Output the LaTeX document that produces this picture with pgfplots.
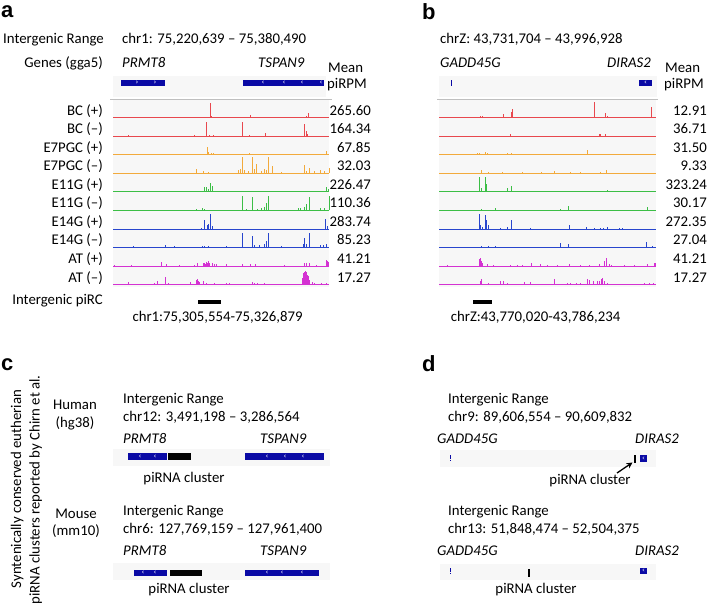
\documentclass[border=0pt]{standalone}
\usepackage{pgfplots}
\pgfplotsset{compat=1.18}
\usepackage{fontspec}
\setmainfont{Carlito}
\newfontfamily\letterfont{Liberation Sans}
\newfontfamily\chevfont{DejaVu Sans}
\usetikzlibrary{arrows.meta}
\definecolor{cBC}{RGB}{232,72,78}
\definecolor{cE7}{RGB}{242,170,60}
\definecolor{cE11}{RGB}{60,190,70}
\definecolor{cE14}{RGB}{40,70,205}
\definecolor{cAT}{RGB}{212,50,210}
\definecolor{gene}{RGB}{10,10,165}
\definecolor{bgg}{RGB}{247,247,247}
\pgfplotsset{trk/.style={hide axis, scale only axis, height=16bp, ymin=0, ymax=16, xmin=0, anchor=south west, clip=false}}
% #1 x0, #2 baseline y (px from top), #3 width, #4 colour, #5 spikes (x, height)
\newcommand{\trk}[5]{%
\begin{axis}[trk, at={(#1bp,609bp-#2bp)}, width=#3bp, xmax=#3]
\addplot[#4, line width=0.75pt] coordinates {(0,0) (#3,0)};
\addplot[#4, ycomb, line width=0.65pt] coordinates {#5};
\end{axis}}
\newcommand{\rect}[5]{\addplot[fill=#5, draw=none] coordinates {(#1,#3) (#2,#3) (#2,#4) (#1,#4)};}
\newcommand{\chev}[3]{\node[text=white, inner sep=0pt, font=\chevfont\fontsize{7bp}{7bp}\selectfont] at (axis cs:#1,#2) {#3};}
\newcommand{\lbl}[4]{%
  \node[anchor=base east] at (axis cs:103,{115.1+18.55*#1}) {#2};
  \node[anchor=base east] at (axis cs:371,{115.1+18.55*#1}) {#3};
  \node[anchor=base east] at (axis cs:707,{115.1+18.55*#1}) {#4};}
\begin{document}
\fontsize{14.8bp}{17bp}\selectfont
\begin{tikzpicture}[every node/.style={inner sep=0pt}]
\begin{axis}[at={(0,0)}, anchor=south west, scale only axis, width=709bp, height=609bp,
  xmin=0, xmax=709, ymin=0, ymax=609, y dir=reverse, hide axis, clip=false]
\path (axis cs:0,0) rectangle (axis cs:709,609);
% ---------- panel a ----------
\node[anchor=base west, font=\letterfont\bfseries\fontsize{22bp}{22bp}\selectfont] at (axis cs:1,18) {a};
\node[anchor=base west] at (axis cs:3,44) {Intergenic Range};
\node[anchor=base west] at (axis cs:122,44) {chr1: 75,220,639 – 75,380,490};
\node[anchor=base east] at (axis cs:103,68) {Genes (gga5)};
\node[anchor=base west] at (axis cs:122,68) {\textit{PRMT8}};
\node[anchor=base west] at (axis cs:258,68) {\textit{TSPAN9}};
\node[anchor=base west] at (axis cs:328,72.5) {Mean};
\node[anchor=base west] at (axis cs:327,89) {piRPM};
\rect{113}{326}{76}{97}{bgg}
\rect{121}{165}{80}{86}{gene}
\rect{243}{324}{80}{86}{gene}
\chev{137}{83}{›}\chev{155}{83}{›}
\chev{263}{83}{‹}\chev{284}{83}{‹}\chev{302}{83}{‹}\chev{321}{83}{‹}
\addplot[black!25, line width=0.6pt] coordinates {(110,99) (332,99)};
\rect{113}{329}{100}{287}{bgg}
% ---------- panel b ----------
\node[anchor=base west, font=\letterfont\bfseries\fontsize{22bp}{22bp}\selectfont] at (axis cs:422,20) {b};
\node[anchor=base west] at (axis cs:440,44) {chrZ: 43,731,704 – 43,996,928};
\node[anchor=base west] at (axis cs:440,68) {\textit{GADD45G}};
\node[anchor=base east] at (axis cs:651,68) {\textit{DIRAS2}};
\node[anchor=base west] at (axis cs:665,72.5) {Mean};
\node[anchor=base west] at (axis cs:664,89) {piRPM};
\rect{439}{657}{76}{97}{bgg}
\rect{450.5}{451.8}{80}{86}{gene}
\rect{639}{652}{80}{86}{gene}
\chev{645.5}{83}{‹}
\addplot[black!25, line width=0.6pt] coordinates {(437,99) (658,99)};
\rect{439}{656}{100}{287}{bgg}
% labels and values
\lbl{0}{BC (+)}{265.60}{12.91}
\lbl{1}{BC (–)}{164.34}{36.71}
\lbl{2}{E7PGC (+)}{67.85}{31.50}
\lbl{3}{E7PGC (–)}{32.03}{9.33}
\lbl{4}{E11G (+)}{226.47}{323.24}
\lbl{5}{E11G (–)}{110.36}{30.17}
\lbl{6}{E14G (+)}{283.74}{272.35}
\lbl{7}{E14G (–)}{85.23}{27.04}
\lbl{8}{AT (+)}{41.21}{41.21}
\lbl{9}{AT (–)}{17.27}{17.27}
\node[anchor=base east] at (axis cs:103,304) {Intergenic piRC};
\rect{198}{221}{299.5}{303.5}{black}
\node[anchor=base] at (axis cs:217.5,321.5) {chr1:75,305,554-75,326,879};
\rect{473}{492}{299.5}{303.5}{black}
\node[anchor=base] at (axis cs:535.5,321.5) {chrZ:43,770,020-43,786,234};
% ---------- panel c ----------
\node[anchor=base west, font=\letterfont\bfseries\fontsize{22bp}{22bp}\selectfont] at (axis cs:1,370) {c};
\node[rotate=90, anchor=base] at (axis cs:21,489) {Syntenically conserved eutherian};
\node[rotate=90, anchor=base] at (axis cs:39.5,490) {piRNA clusters reported by Chirn et al.};
\node[anchor=base] at (axis cs:75,409) {Human};
\node[anchor=base] at (axis cs:75,427) {(hg38)};
\node[anchor=base west] at (axis cs:123,403) {Intergenic Range};
\node[anchor=base west] at (axis cs:123,421) {chr12: 3,491,198 – 3,286,564};
\node[anchor=base west] at (axis cs:123,443) {\textit{PRMT8}};
\node[anchor=base west] at (axis cs:260,443) {\textit{TSPAN9}};
\rect{113}{330}{449}{466}{bgg}
\rect{128}{167}{453}{460}{gene}
\rect{167.5}{191}{453}{460}{black}
\rect{245}{324}{453}{460}{gene}
\chev{140}{456.5}{‹}\chev{155}{456.5}{‹}
\chev{267}{456.5}{‹}\chev{285}{456.5}{‹}\chev{303}{456.5}{‹}
\node[anchor=base] at (axis cs:184,482) {piRNA cluster};
\node[anchor=base] at (axis cs:76,518) {Mouse};
\node[anchor=base] at (axis cs:76,535) {(mm10)};
\node[anchor=base west] at (axis cs:123,515) {Intergenic Range};
\node[anchor=base west] at (axis cs:123,533) {chr6: 127,769,159 – 127,961,400};
\node[anchor=base west] at (axis cs:123,555) {\textit{PRMT8}};
\node[anchor=base west] at (axis cs:260,555) {\textit{TSPAN9}};
\rect{113}{330}{563}{580}{bgg}
\rect{134}{167}{570}{576}{gene}
\rect{170}{202}{570}{576}{black}
\rect{245}{319}{570}{576}{gene}
\chev{143}{573}{‹}\chev{155}{573}{‹}
\chev{267}{573}{‹}\chev{282}{573}{‹}\chev{302}{573}{‹}
\node[anchor=base] at (axis cs:189,593) {piRNA cluster};
% ---------- panel d ----------
\node[anchor=base west, font=\letterfont\bfseries\fontsize{22bp}{22bp}\selectfont] at (axis cs:422,371) {d};
\node[anchor=base west] at (axis cs:448,403) {Intergenic Range};
\node[anchor=base west] at (axis cs:448,421) {chr9: 89,606,554 – 90,609,832};
\node[anchor=base west] at (axis cs:437,443) {\textit{GADD45G}};
\node[anchor=base east] at (axis cs:679,443) {\textit{DIRAS2}};
\rect{440}{656}{450}{467}{bgg}
\addplot[gene, line width=0.9pt, dash pattern=on 4pt off 1pt] coordinates {(450,455) (450,461)};
\rect{634}{636}{455}{463}{black}
\rect{640}{647}{455}{462}{gene}
\chev{643.5}{458.5}{‹}
\draw[-{Stealth[length=6pt,width=6pt]}, line width=1.3pt] (axis cs:617,473) -- (axis cs:632.5,462.5);
\node[anchor=base] at (axis cs:590,484) {piRNA cluster};
\node[anchor=base west] at (axis cs:448,515) {Intergenic Range};
\node[anchor=base west] at (axis cs:448,533) {chr13: 51,848,474 – 52,504,375};
\node[anchor=base west] at (axis cs:437,555) {\textit{GADD45G}};
\node[anchor=base east] at (axis cs:679,555) {\textit{DIRAS2}};
\rect{440}{656}{564}{580}{bgg}
\addplot[gene, line width=0.9pt, dash pattern=on 4pt off 1pt] coordinates {(450,568) (450,574)};
\rect{528}{530}{569}{577}{black}
\rect{640}{647}{568}{574}{gene}
\chev{643.5}{571}{‹}
\node[anchor=base] at (axis cs:536,593) {piRNA cluster};
\end{axis}
% ---------- panel a tracks ----------
\trk{113}{117.6}{216}{cBC}{(95,1)(97,14.7)(98.3,2)(137.7,2.7)(155.7,1)(159,1)(193.7,1.5)(195.7,4.7)}
\trk{113}{136.15}{216}{cBC}{(15.7,1)(81.7,1)(93.3,14)(96.7,1)(100,1)(129.3,14)(136.7,1)(152.3,3.3)(191.7,11.7)(193,5)(194.3,2)}
\trk{113}{154.7}{216}{cE7}{(25.7,0.7)(85,0.7)(94,7.3)(95,3)(98.3,2)(100,2)(136.7,1.5)(213.3,3.3)}
\trk{113}{173.25}{216}{cE7}{(8.3,0.7)(83.3,4.3)(90,2)(95,1)(125,3)(127.3,4)(129.3,16)(131.7,3)(135,2)(139.7,16)(141,4)(143.3,9.3)(148.3,2)(151,4)(153.3,3)(155.7,16)(159,7.7)(168.3,1)(191,8.3)(193.3,2)(196,5)(201.7,2)(207.7,3.3)(211,2)(216,5.3)}
\trk{113}{191.8}{216}{cE11}{(66.7,0.7)(91.7,4.3)(93.7,5)(95,3)(97.3,8.3)(99,6)(193.3,1)(213.3,4.3)(215,3)}
\trk{113}{210.35}{216}{cE11}{(83.3,1)(89,2)(91.7,1.5)(129.3,14.3)(133.3,1)(139.3,13.3)(144.3,1)(148.3,2)(151,3.3)(153.3,7.7)(155,14.3)(185,2)(187.7,2)(191.7,3.3)(193.7,6)(196,13.7)(207.7,2)(211,2)(216,14.3)}
\trk{113}{228.9}{216}{cE14}{(88.3,1)(91.7,8.7)(94,4)(95.7,4.7)(97.7,14.7)(99,3)(212.3,9.7)(214,3)}
\trk{113}{247.45}{216}{cE14}{(1.7,0.7)(20,1)(35,0.7)(52.7,2.3)(61.7,1)(75,0.7)(89,1.5)(91.7,1)(95,1.5)(113.3,1)(129.3,14.3)(139.3,11)(141.7,2)(146.7,2.7)(151,3.3)(153.3,6.7)(155.7,14.3)(168.3,1)(190,3.3)(191.7,9)(193.7,3.3)(196,14)(207.7,2.7)(210,2)(213.3,3.3)}
\trk{113}{266}{216}{cAT}{(1.7,0.5)(18.3,0.7)(48.3,4)(53.3,2)(66.7,1)(81.7,1)(84.3,3.3)(90,2.5)(91.7,3.3)(92.5,2)(93.3,4)(94.2,3)(95,5)(96.7,3)(99,3)(101.7,2)(103.3,2)(113.3,1.5)(129.3,2)(137.7,2)(142.7,2)(171.7,0.7)(191,3.3)(193.3,2.5)(196,2.5)(203.3,1)(213.3,5.7)(214.2,4.5)(215,4)}
\trk{113}{284.55}{216}{cAT}{(1.7,0.5)(15,2.3)(41.7,2)(44.3,4)(52.3,7.3)(55,2)(66.7,1)(73.3,1)(77.7,2.7)(83.3,5)(84.3,6)(85.5,4)(86.7,3)(90,4)(93.3,1.5)(101.7,1.5)(113.3,2)(116.7,2)(128.3,1)(139.3,2.7)(141.7,2)(144.3,2)(151.7,2)(158.3,1)(170,1)(180,1)(189.3,6.7)(190,9)(190.7,11.7)(191.5,13)(192.3,14)(193,13)(193.7,12.3)(194.4,10)(195,8.3)(196.7,5)(199,3)(201.7,2)(208.3,1.5)(213.3,2)}
% ---------- panel b tracks ----------
\trk{439}{117.6}{217}{cBC}{(41.7,1.5)(43.3,1.5)(56.7,1)(64.3,4)(72.3,6)(73.7,8.3)(155.7,15.3)(166.7,5)(168.3,2)(212.3,10.7)}
\trk{439}{136.15}{217}{cBC}{(71.7,2.3)(160,2)(161.7,2)(166.7,2)}
\trk{439}{154.7}{217}{cE7}{(38.3,2)(40.7,2)(46.7,3)(48.3,2)(68.3,1.5)(72.3,2)(92.7,1)(131.7,1)(148.3,5)(156,1)(160,1)(163.3,1)(166.7,1)(183.3,0.7)(208.3,0.7)}
\trk{439}{173.25}{217}{cE7}{(42.3,3.3)(49.3,1.5)(63.3,1)(83.3,1)(102.3,1)(115.7,2)(131.7,1)(141.7,1)(161.7,1.5)(167.3,3.7)(208.3,0.7)}
\trk{439}{191.8}{217}{cE11}{(40.7,14.3)(42,4)(46.3,14.3)(47.7,7.7)(56.7,1)(68.3,3.7)(72.3,6)(97.7,1)(168.3,2)(182.7,1)}
\trk{439}{210.35}{217}{cE11}{(24.3,0.7)(42.7,1.5)(56.7,2.7)(71.7,0.7)(121.7,1)(129,4.3)(149,0.7)(167.7,0.7)(208.3,3.3)}
\trk{439}{228.9}{217}{cE14}{(40.3,14.7)(41.7,3.7)(43.3,2)(46.3,14)(47.7,8.7)(49,4.3)(61.7,1)(68.3,1.5)(72.3,9.3)(91.7,0.7)(130.7,3.7)(147.7,2)(155,1)(161.7,1)(164.3,1)(168.3,2)(180,0.7)(183.3,0.7)}
\trk{439}{247.45}{217}{cE14}{(42.7,1.7)(49.3,1)(56.7,1.7)(102.3,0.7)(121,4.3)(129,3)(148.3,0.7)(167.7,0.7)(183.3,0.7)(207.7,5)(213.3,1)}
\trk{439}{266}{217}{cAT}{(8.3,0.7)(40.3,7)(41.7,7.7)(42.5,5)(43.3,3)(48.3,2)(54.3,1)(71.7,1)(78.3,1)(83.3,1)(92.3,3.3)(101,1.5)(108.3,1)(118.3,1)(130,2)(141.7,1)(150,1)(160,1.5)(165.7,5.3)(167.7,7.7)(170,2)(172.3,1)(185,1)(195,0.7)(208.3,2)(215,3)(216.7,3)}
\trk{439}{284.55}{217}{cAT}{(23.3,0.7)(41,3.3)(42.3,5.7)(49,2)(61.7,3.3)(64.3,4)(68.3,2)(71.7,1)(85.7,2.5)(91.7,3)(115.7,5.3)(128.3,2)(131.7,1.5)(137.7,1.5)(141.7,2)(148.3,5.3)(150,4.7)(154.3,4)(158.3,4)(160.7,4)(162.3,5.3)(163.7,6.3)(165.7,4)(168.3,2)(200,1)(205,1.5)(210,2)(214.3,1.5)}
\end{tikzpicture}
\end{document}
